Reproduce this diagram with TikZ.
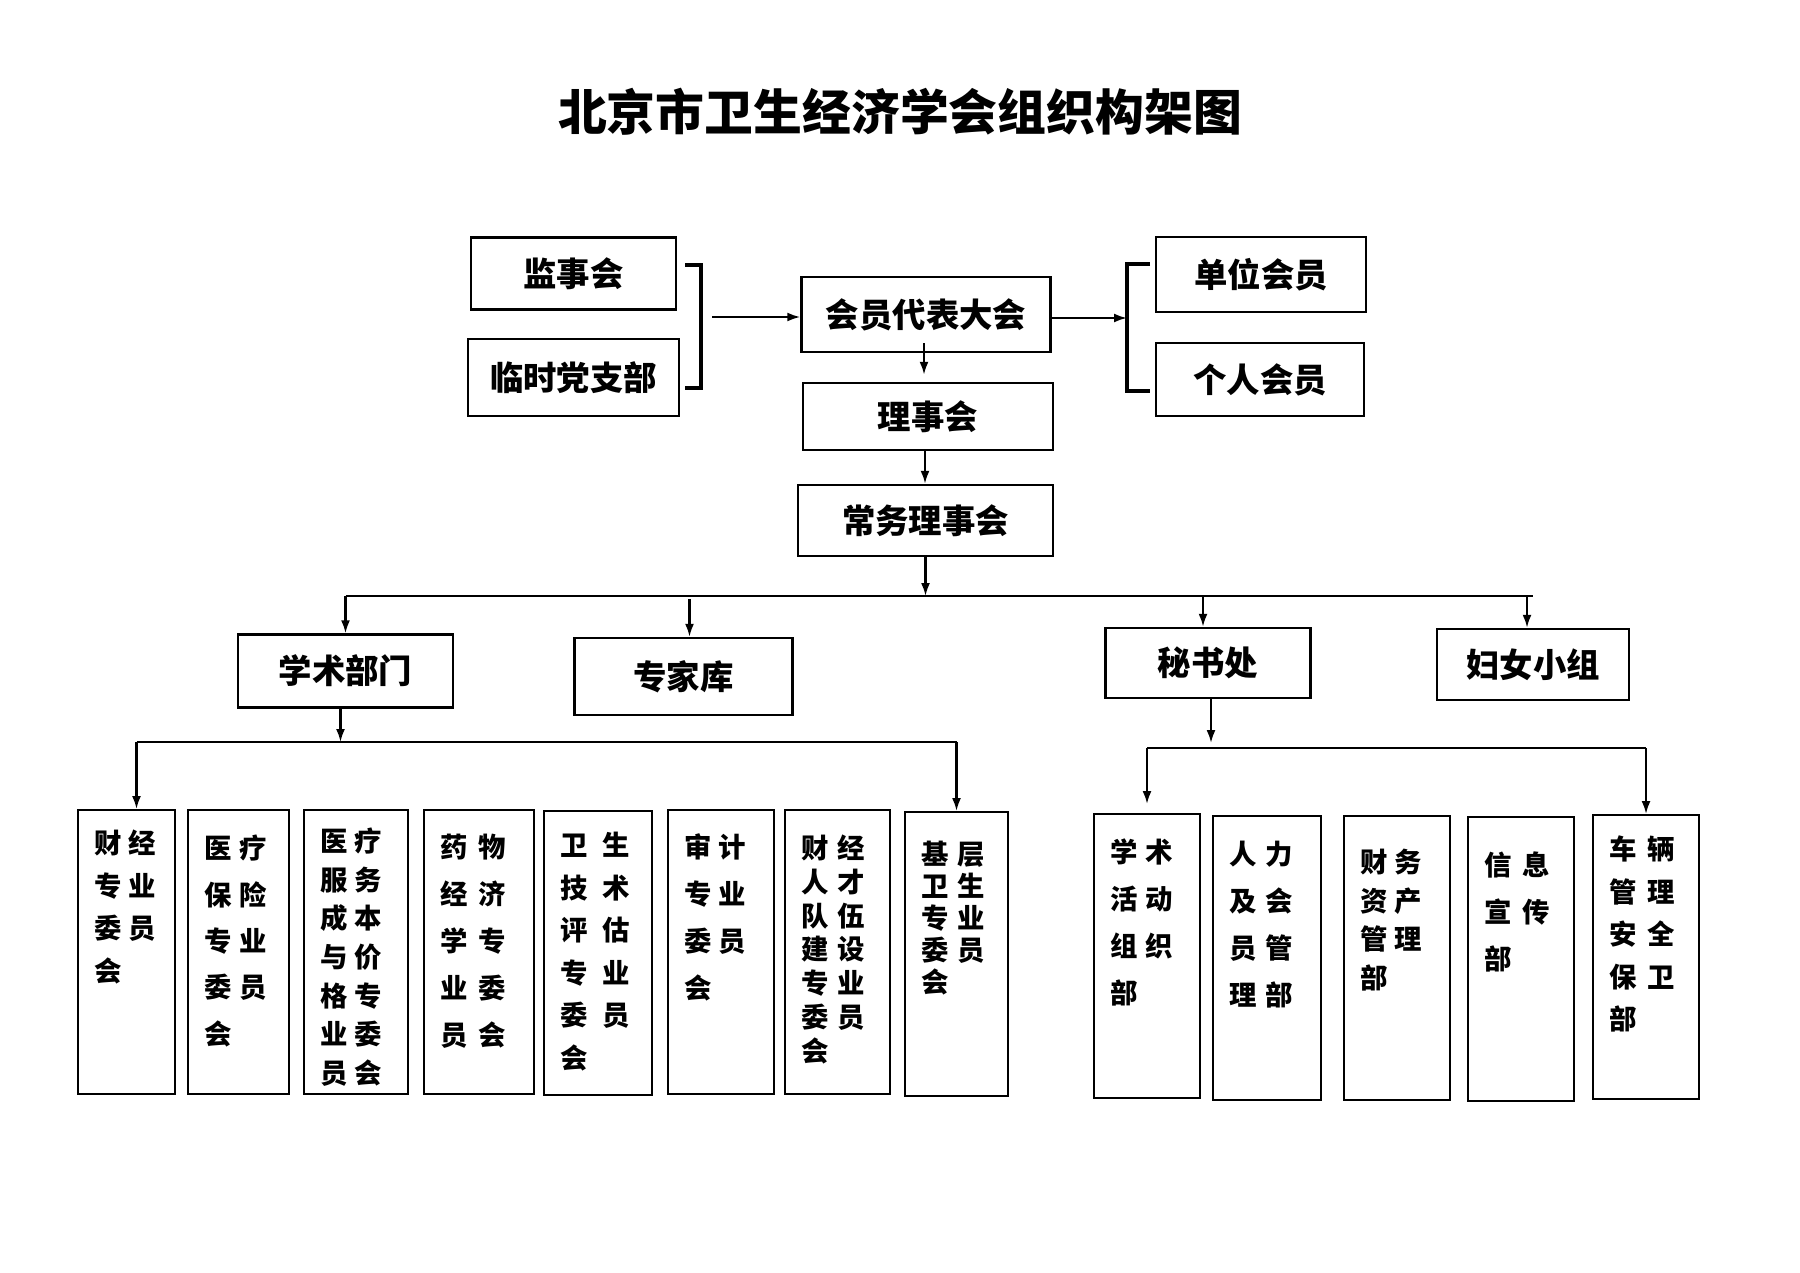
\documentclass[tikz,border=0pt]{standalone}
\usepackage{fontspec}
\setmainfont{Noto Sans CJK SC}
\usetikzlibrary{arrows.meta, calc}

\newlength\colgap
% width, top pad, line skip, column gap, rows
\newcommand{\rows}[5]{\parbox[c][28.4mm][t]{#1}{\setlength\colgap{#4}\leftskip=1.6mm
  \vspace*{#2}\fontsize{7.8pt}{#3}\selectfont\bfseries #5}}
\newcommand{\gp}{\hspace{\colgap}}

\begin{document}
\begin{tikzpicture}[x=0.1mm, y=-0.1mm, >={Latex[length=1.3mm,width=0.9mm]},
    box/.style={draw, line width=0.7pt, inner sep=0pt, font=\fontsize{9.5pt}{11pt}\selectfont\bfseries},
    unit/.style={draw, line width=0.6pt, inner sep=0pt, anchor=north},
    link/.style={line width=0.6pt}]
  \useasboundingbox (0,0) rectangle (1800,1272);
  \node[font=\fontsize{13.9pt}{16pt}\selectfont\bfseries] (title) at (900,112) {北京市卫生经济学会组织构架图};

  % --- top level ---
  \node[box, minimum width=20.5mm, minimum height=7.2mm] (jsh) at (573.5,273.5) {监事会};
  \node[box, minimum width=21.1mm, minimum height=7.7mm] (dzb) at (573.5,377.5) {\raisebox{-0.4mm}{临时党支部}};
  \node[box, minimum width=24.9mm, minimum height=7.5mm] (hydb) at (926,314.5) {\raisebox{-0.4mm}{会员代表大会}};
  \node[box, minimum width=21mm, minimum height=7.5mm] (dwhy) at (1261,274.5) {\raisebox{-0.3mm}{单位会员}};
  \node[box, minimum width=20.8mm, minimum height=7.3mm] (grhy) at (1260,379.5) {个人会员};
  \node[box, minimum width=25mm, minimum height=6.7mm] (lsh) at (928,416.5) {理事会};
  \node[box, minimum width=25.5mm, minimum height=7.1mm] (cwlsh) at (925.5,520.5) {常务理事会};

  \coordinate (lbt) at (685,265);
  \coordinate (lbb) at (685,388);
  \coordinate (lbm) at (712,317);
  \draw[line width=1pt] (lbt) -- ++(16,0) |- (lbb);
  \draw[->, link] (lbm) -- (lbm -| hydb.west);
  \coordinate (rbt) at (1150,264);
  \coordinate (rbb) at (1150,391);
  \coordinate (rbm) at (1127,318);
  \draw[line width=1pt] (rbt) -- ++(-23,0) |- (rbb);
  \draw[->, link] (hydb.east |- rbm) -- (rbm);

  \draw[->, link, shorten >=0.7mm] ([xshift=-0.2mm,yshift=1mm]hydb.south) -- ([xshift=-0.2mm]hydb.south |- lsh.north);
  \draw[->, link] ([xshift=-0.3mm]lsh.south) -- ([xshift=-0.3mm]lsh.south |- cwlsh.north);

  % --- second level ---
  \node[box, minimum width=21.5mm, minimum height=7.3mm] (xsbm) at (345.5,671) {学术部门};
  \node[box, minimum width=21.8mm, minimum height=7.7mm] (zjk) at (683.5,676.5) {专家库};
  \node[box, minimum width=20.5mm, minimum height=7mm] (msc) at (1208,663) {秘书处};
  \node[box, minimum width=19.2mm, minimum height=7.1mm] (fnxz) at (1533,664.5) {妇女小组};

  \coordinate (busA) at (0,596);
  \draw[->, link] (cwlsh.south) -- (cwlsh.south |- busA);
  \draw[link] (xsbm.north |- busA) -- (fnxz.north |- busA);
  \draw[->, link] (xsbm.north |- busA) -- (xsbm.north);
  \draw[->, link] ([xshift=0.6mm,yshift=-0.3mm]zjk.north |- busA) -- ([xshift=0.6mm]zjk.north);
  \draw[->, link] ([xshift=-0.5mm]msc.north |- busA) -- ([xshift=-0.5mm]msc.north);
  \draw[->, link] ([xshift=-0.6mm]fnxz.north |- busA) -- ([xshift=-0.6mm]fnxz.north);

  % --- committees ---
  \node[unit] (cjwh) at (126.5,809) {\rows{9.7mm}{2.0mm}{12.1pt}{0.7mm}{财\gp 经\\专\gp 业\\委\gp 员\\会}};
  \node[unit] (ylbx) at (238.5,809) {\rows{10.1mm}{2.5mm}{13.2pt}{0.8mm}{医\gp 疗\\保\gp 险\\专\gp 业\\委\gp 员\\会}};
  \node[unit] (ylfw) at (356,809) {\rows{10.4mm}{1.8mm}{11pt}{0.7mm}{医\gp 疗\\服\gp 务\\成\gp 本\\与\gp 价\\格\gp 专\\业\gp 委\\员\gp 会}};
  \node[unit] (ywjj) at (479,809) {\rows{11mm}{2.4mm}{13.4pt}{1.1mm}{药\gp 物\\经\gp 济\\学\gp 专\\业\gp 委\\员\gp 会}};
  \node[unit] (wsjs) at (598,810) {\rows{10.8mm}{2.1mm}{12.1pt}{1.5mm}{卫\gp 生\\技\gp 术\\评\gp 估\\专\gp 业\\委\gp 员\\会}};
  \node[unit] (sjwh) at (721,809) {\rows{10.6mm}{2.4mm}{13.3pt}{0.7mm}{审\gp 计\\专\gp 业\\委\gp 员\\会}};
  \node[unit] (rcdw) at (837.5,809) {\rows{10.5mm}{2.5mm}{9.6pt}{0.9mm}{财\gp 经\\人\gp 才\\队\gp 伍\\建\gp 设\\专\gp 业\\委\gp 员\\会}};
  \node[unit] (jcws) at (956.5,811) {\rows{10.3mm}{2.9mm}{9.1pt}{0.9mm}{基\gp 层\\卫\gp 生\\专\gp 业\\委\gp 员\\会}};

  \coordinate (busB) at (0,742);
  \draw[->, link] ([xshift=-0.5mm]xsbm.south) -- ([xshift=-0.5mm]xsbm.south |- busB);
  \draw[link] ([xshift=1mm]cjwh.north |- busB) -- (jcws.north |- busB);
  \draw[->, link] ([xshift=1mm]cjwh.north |- busB) -- ([xshift=1mm]cjwh.north);
  \draw[->, link] (jcws.north |- busB) -- (jcws.north);

  % --- departments ---
  \node[unit] (xshd) at (1147,813) {\rows{10.6mm}{2.5mm}{13.3pt}{0.8mm}{学\gp 术\\活\gp 动\\组\gp 织\\部}};
  \node[unit] (rlhy) at (1267,815) {\rows{10.8mm}{2.5mm}{13.4pt}{0.9mm}{人\gp 力\\及\gp 会\\员\gp 管\\理\gp 部}};
  \node[unit] (cwzc) at (1397,815) {\rows{10.6mm}{3.3mm}{11pt}{0.7mm}{财\gp 务\\资\gp 产\\管\gp 理\\部}};
  \node[unit] (xxxc) at (1521,816) {\rows{10.6mm}{3.5mm}{13.4pt}{1.1mm}{信\gp 息\\宣\gp 传\\部}};
  \node[unit] (clgl) at (1646,814) {\rows{10.6mm}{2.1mm}{12.1pt}{1.1mm}{车\gp 辆\\管\gp 理\\安\gp 全\\保\gp 卫\\部}};

  \coordinate (busC) at (0,748);
  \draw[->, link] ([xshift=0.3mm]msc.south) -- ([xshift=0.3mm,yshift=0.5mm]msc.south |- busC);
  \draw[link] (xshd.north |- busC) -- (clgl.north |- busC);
  \draw[->, link, shorten >=0.9mm] (xshd.north |- busC) -- (xshd.north);
  \draw[->, link] (clgl.north |- busC) -- (clgl.north);
\end{tikzpicture}
\end{document}
